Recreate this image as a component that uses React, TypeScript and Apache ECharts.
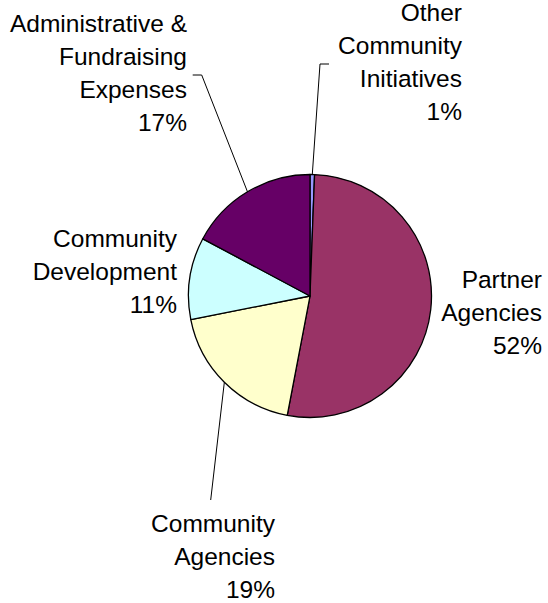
import React, { useEffect, useRef } from 'react';
import * as echarts from 'echarts';

// Categories in drawing order (clockwise from 12 o'clock)
const categories = [
  'Other\nCommunity\nInitiatives',
  'Partner\nAgencies',
  'Community\nAgencies',
  'Community\nDevelopment',
  'Administrative &\nFundraising\nExpenses',
];
// Share of total, percent
const shares = [0.6, 52.4, 18.9, 10.9, 17.2];
const colors = ['#9999FF', '#993366', '#FFFFCC', '#CCFFFF', '#660066'];

// Label placement: right edge x, vertical centre y of the text block; guide = bend point and end point of the leader line
const labelPlacement: { x: number; y: number; guide: number[][] | null }[] = [
  { x: 462, y: 61.5, guide: [[320, 64], [329, 64]] },
  { x: 542, y: 312.5, guide: null },
  { x: 275, y: 556, guide: [[210.7, 500], [210.7, 500]] },
  { x: 177, y: 271.5, guide: null },
  { x: 187, y: 73, guide: [[201.7, 75], [192.7, 75]] },
];

export default function App() {
  const ref = useRef<HTMLDivElement>(null);
  useEffect(() => {
    if (!ref.current) return;
    const chart = echarts.init(ref.current, null, { renderer: 'svg' });
    chart.setOption({
      animation: false,
      backgroundColor: '#ffffff',
      series: [
        {
          type: 'pie',
          center: [310, 296],
          radius: 121.5,
          startAngle: 90,
          clockwise: true,
          percentPrecision: 0,
          avoidLabelOverlap: false,
          emphasis: { disabled: true },
          itemStyle: { borderColor: '#000000', borderWidth: 1.3 },
          label: {
            show: true,
            position: 'outside',
            formatter: '{b}\n{d}%',
            fontFamily: 'Liberation Sans, Arial, sans-serif',
            fontSize: 24.5,
            lineHeight: 33,
            color: '#000000',
            align: 'right',
          },
          labelLine: { show: true, lineStyle: { color: '#000000', width: 1 } },
          labelLayout: (params: any) => {
            const p = labelPlacement[params.dataIndex];
            const out: any = { x: p.x, y: p.y, align: 'right', verticalAlign: 'middle', hideOverlap: false };
            if (p.guide && params.labelLinePoints) {
              out.labelLinePoints = [params.labelLinePoints[0], p.guide[0], p.guide[1]];
            }
            return out;
          },
          data: categories.map((name, i) => ({
            name,
            value: shares[i],
            itemStyle: { color: colors[i] },
            labelLine: { show: !!labelPlacement[i].guide },
          })),
        },
      ],
    });
    return () => chart.dispose();
  }, []);
  return (
    <div
      ref={ref}
      style={{ position: 'absolute', left: 0, top: 0, width: 548, height: 603, background: '#fff' }}
    />
  );
}
